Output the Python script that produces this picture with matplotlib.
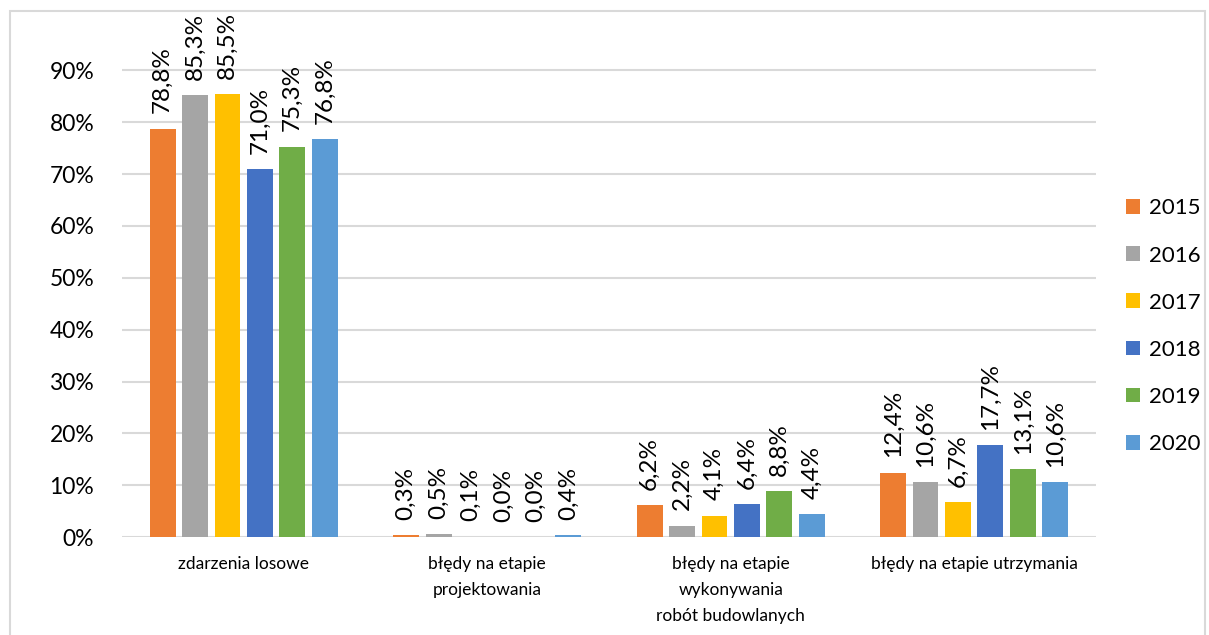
import matplotlib.pyplot as plt
import numpy as np
from matplotlib.patches import Rectangle

plt.rcParams['font.family'] = ['Lato', 'DejaVu Sans']

categories = ['zdarzenia losowe', 'błędy na etapie\nprojektowania',
              'błędy na etapie\nwykonywania\nrobót budowlanych',
              'błędy na etapie utrzymania']
years = ['2015', '2016', '2017', '2018', '2019', '2020']
v2015 = [78.8, 0.3, 6.2, 12.4]
v2016 = [85.3, 0.5, 2.2, 10.6]
v2017 = [85.5, 0.1, 4.1, 6.7]
v2018 = [71.0, 0.0, 6.4, 17.7]
v2019 = [75.3, 0.0, 8.8, 13.1]
v2020 = [76.8, 0.4, 4.4, 10.6]
series = [v2015, v2016, v2017, v2018, v2019, v2020]
colors = ['#ED7D31', '#A5A5A5', '#FFC000', '#4472C4', '#70AD47', '#5B9BD5']

fig = plt.figure(figsize=(12.09, 6.35), dpi=100)
ax = fig.add_axes([0.1009, 0.1543, 0.8056, 0.80])

x = np.arange(len(categories))
slot = 0.8 / len(series)
for i, (vals, c, yr) in enumerate(zip(series, colors, years)):
    pos = x - 0.4 + slot * (i + 0.5)
    ax.bar(pos, np.array(vals) / 100, width=slot * 0.8, color=c,
           label=yr, zorder=3)
    for xb, v in zip(pos, vals):
        ax.annotate(f'{v:.1f}%'.replace('.', ','), (xb, v / 100),
                    xytext=(0, 11), textcoords='offset points',
                    rotation=90, ha='center', va='bottom', fontsize=17.5,
                    color='#000000')

ax.set_xlim(-0.5, 3.5)
ax.set_ylim(0, 0.98)
ticks = np.arange(0, 1.0, 0.1)
ax.set_yticks(ticks)
ax.set_yticklabels([f'{int(round(t * 100))}%' for t in ticks], fontsize=16.5)
ax.set_xticks(x)
ax.set_xticklabels(categories, fontsize=12.5, linespacing=1.75, va='top')
ax.tick_params(axis='both', length=0)
ax.tick_params(axis='y', pad=20)
ax.tick_params(axis='x', pad=14)
ax.grid(axis='y', color='#D9D9D9', linewidth=1.5, zorder=0)
for s in ax.spines.values():
    s.set_visible(False)

ax.legend(loc='center left', bbox_to_anchor=(1.01, 0.415), frameon=False,
          fontsize=16, handlelength=0.65, handleheight=0.65,
          handletextpad=0.4, labelspacing=1.22)

fig.patches.append(Rectangle((10 / 1209, -0.1), 1195 / 1209, 0.1 + 624 / 635,
                             transform=fig.transFigure, fill=False,
                             edgecolor='#D9D9D9', linewidth=1.5))

fig.savefig('out.png', dpi=100)
